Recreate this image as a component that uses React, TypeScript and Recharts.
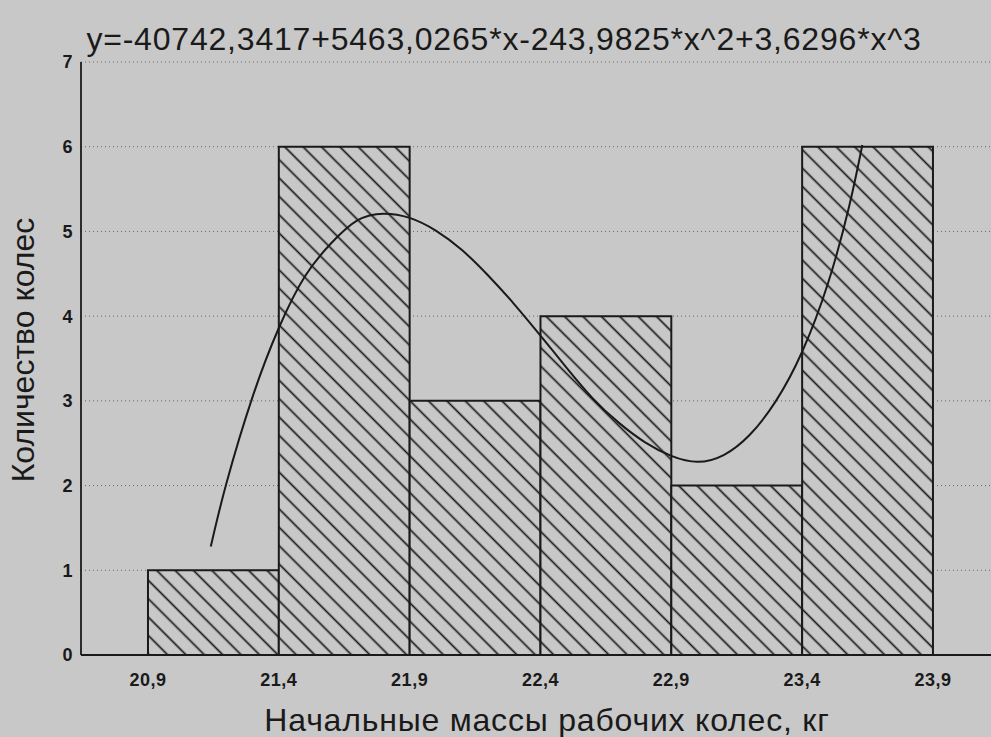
import React from 'react'
import { ComposedChart, Line, XAxis, YAxis, CartesianGrid, ReferenceArea } from 'recharts'

// histogram bins (kg) and counts
const binStarts = [20.9, 21.4, 21.9, 22.4, 22.9, 23.4]
const binEnds = [21.4, 21.9, 22.4, 22.9, 23.4, 23.9]
const counts = [1, 6, 3, 4, 2, 6]

// fitted curve
const curveX = [
  21.14, 21.2, 21.3, 21.4, 21.5, 21.6, 21.7, 21.8, 21.9, 22.0, 22.1, 22.2,
  22.3, 22.4, 22.5, 22.6, 22.7, 22.8, 22.9, 23.0, 23.1, 23.2, 23.3, 23.4,
  23.5, 23.58, 23.63,
]
const curveY = [
  1.28, 2.03, 3.05, 3.86, 4.47, 4.86, 5.13, 5.21, 5.16, 5.01, 4.78, 4.48,
  4.14, 3.77, 3.39, 3.03, 2.74, 2.51, 2.35, 2.28, 2.36, 2.6, 3.0, 3.58,
  4.4, 5.3, 6.02,
]

const xTicks = [20.9, 21.4, 21.9, 22.4, 22.9, 23.4, 23.9]
const xTickLabels = ['20,9', '21,4', '21,9', '22,4', '22,9', '23,4', '23,9']
const yTicks = [0, 1, 2, 3, 4, 5, 6, 7]

const title = 'y=-40742,3417+5463,0265*x-243,9825*x^2+3,6296*x^3'
const xTitle = 'Начальные массы рабочих колес, кг'
const yTitle = 'Количество колес'

const curve = curveX.map((x, i) => ({ x, y: curveY[i] }))

const paper = '#c8c8c8'
const ink = '#1a1a1a'
const font = '"Liberation Sans", Arial, sans-serif'

const tickStyle = { fill: ink, fontSize: 18, fontWeight: 700, fontFamily: font, letterSpacing: 0.5 }

export default function App() {
  return (
    <div
      style={{
        position: 'fixed',
        left: 0,
        top: 0,
        width: 991,
        height: 737,
        overflow: 'hidden',
        background: paper,
      }}
    >
      <ComposedChart width={1010} height={737} data={curve} margin={{ top: 62, right: 9, bottom: 52, left: 1 }}>
        <defs>
          <pattern id="hatch" patternUnits="userSpaceOnUse" width={13} height={13} patternTransform="rotate(45)">
            <rect x={0} y={0} width={13} height={13} fill={paper} />
            <line x1={0} y1={6.5} x2={13} y2={6.5} stroke={ink} strokeWidth={1.7} />
          </pattern>
        </defs>
        <CartesianGrid vertical={false} stroke="#666" strokeDasharray="1 3" />
        {counts.map((c, i) => (
          <ReferenceArea
            key={i}
            x1={binStarts[i]}
            x2={binEnds[i]}
            y1={0}
            y2={c}
            fill="url(#hatch)"
            fillOpacity={1}
            stroke={ink}
            strokeWidth={2}
          />
        ))}
        <Line
          type="natural"
          dataKey="y"
          stroke={ink}
          strokeWidth={2}
          dot={false}
          isAnimationActive={false}
        />
        <XAxis
          dataKey="x"
          type="number"
          domain={[20.644, 24.16]}
          allowDataOverflow
          ticks={xTicks}
          tickFormatter={(_v: number, i: number) => xTickLabels[i]}
          tick={tickStyle}
          tickLine={false}
          tickMargin={12}
          height={30}
          axisLine={{ stroke: ink, strokeWidth: 1.8 }}
        />
        <XAxis
          xAxisId="top"
          orientation="top"
          dataKey="x"
          type="number"
          domain={[20.644, 24.16]}
          allowDataOverflow
          ticks={xTicks}
          tick={false}
          mirror
          tickSize={5}
          height={0}
          stroke={ink}
          axisLine={{ stroke: ink, strokeWidth: 1.8 }}
        />
        <YAxis
          type="number"
          domain={[0, 7]}
          allowDataOverflow
          ticks={yTicks}
          tick={tickStyle}
          tickLine={false}
          width={80}
          axisLine={{ stroke: ink, strokeWidth: 1.8 }}
        />
      </ComposedChart>
      <svg
        width={991}
        height={737}
        style={{ position: 'absolute', left: 0, top: 0, pointerEvents: 'none' }}
      >
        <text x={504} y={50} textAnchor="middle" fontFamily={font} fontSize={32} letterSpacing={0.8} fill={ink}>
          {title}
        </text>
        <text x={547} y={731} textAnchor="middle" fontFamily={font} fontSize={32} letterSpacing={0.8} fill={ink}>
          {xTitle}
        </text>
        <text
          x={-350}
          y={34}
          transform="rotate(-90)"
          textAnchor="middle"
          fontFamily={font}
          fontSize={32}
          fill={ink}
        >
          {yTitle}
        </text>
      </svg>
    </div>
  )
}
